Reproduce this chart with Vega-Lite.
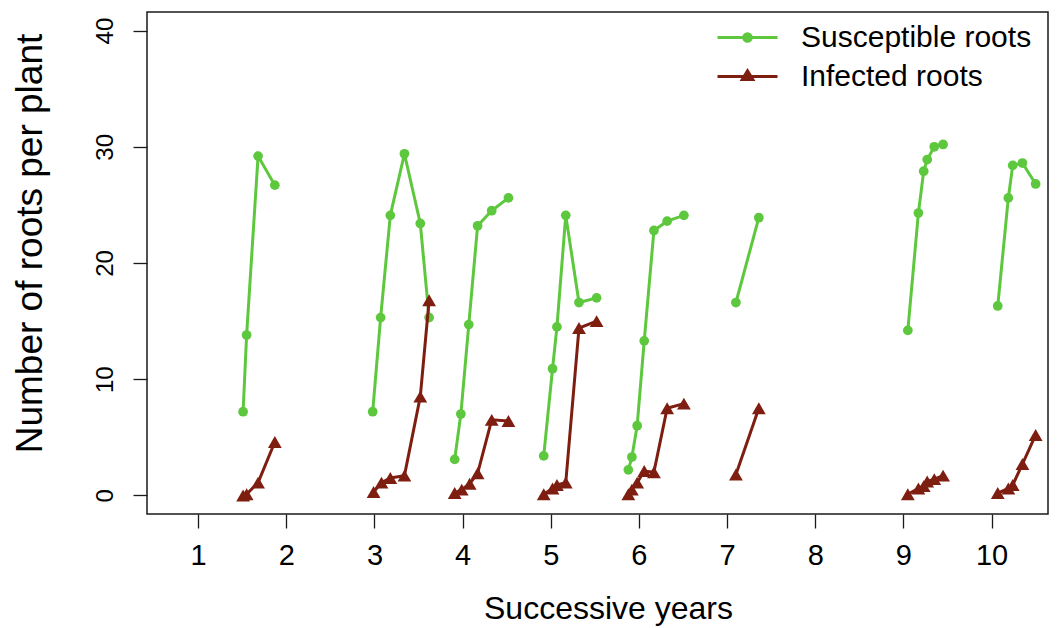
{
  "$schema": "https://vega.github.io/schema/vega-lite/v6.json",
  "width": 901,
  "height": 502,
  "autosize": {"type": "none"},
  "padding": {"left": 147, "top": 12, "right": 13, "bottom": 114},
  "background": "white",
  "config": {
    "font": "Liberation Sans",
    "view": {"stroke": "#1a1a1a", "strokeWidth": 1.5},
    "axis": {
      "grid": false,
      "domain": false,
      "tickColor": "#1a1a1a",
      "tickWidth": 1.3,
      "tickSize": 14,
      "labelColor": "black",
      "titleColor": "black",
      "labelFont": "Liberation Sans",
      "titleFont": "Liberation Sans",
      "labelFontSize": 24,
      "titleFontWeight": "normal",
      "labelFlush": false,
      "labelOverlap": false,
      "labelBound": false
    }
  },
  "data": {
    "values": [
      {"series": "Susceptible roots", "g": 1, "x": 1.51, "y": 7.2},
      {"series": "Susceptible roots", "g": 1, "x": 1.55, "y": 13.8},
      {"series": "Susceptible roots", "g": 1, "x": 1.68, "y": 29.2},
      {"series": "Susceptible roots", "g": 1, "x": 1.87, "y": 26.7},
      {"series": "Susceptible roots", "g": 3, "x": 2.98, "y": 7.2},
      {"series": "Susceptible roots", "g": 3, "x": 3.07, "y": 15.3},
      {"series": "Susceptible roots", "g": 3, "x": 3.18, "y": 24.1},
      {"series": "Susceptible roots", "g": 3, "x": 3.34, "y": 29.4},
      {"series": "Susceptible roots", "g": 3, "x": 3.52, "y": 23.4},
      {"series": "Susceptible roots", "g": 3, "x": 3.62, "y": 15.3},
      {"series": "Susceptible roots", "g": 4, "x": 3.91, "y": 3.1},
      {"series": "Susceptible roots", "g": 4, "x": 3.98, "y": 7.0},
      {"series": "Susceptible roots", "g": 4, "x": 4.07, "y": 14.7},
      {"series": "Susceptible roots", "g": 4, "x": 4.17, "y": 23.2},
      {"series": "Susceptible roots", "g": 4, "x": 4.33, "y": 24.5},
      {"series": "Susceptible roots", "g": 4, "x": 4.52, "y": 25.6},
      {"series": "Susceptible roots", "g": 5, "x": 4.92, "y": 3.4},
      {"series": "Susceptible roots", "g": 5, "x": 5.02, "y": 10.9},
      {"series": "Susceptible roots", "g": 5, "x": 5.07, "y": 14.5},
      {"series": "Susceptible roots", "g": 5, "x": 5.17, "y": 24.1},
      {"series": "Susceptible roots", "g": 5, "x": 5.32, "y": 16.6},
      {"series": "Susceptible roots", "g": 5, "x": 5.52, "y": 17.0},
      {"series": "Susceptible roots", "g": 6, "x": 5.88, "y": 2.2},
      {"series": "Susceptible roots", "g": 6, "x": 5.92, "y": 3.3},
      {"series": "Susceptible roots", "g": 6, "x": 5.98, "y": 6.0},
      {"series": "Susceptible roots", "g": 6, "x": 6.06, "y": 13.3},
      {"series": "Susceptible roots", "g": 6, "x": 6.17, "y": 22.8},
      {"series": "Susceptible roots", "g": 6, "x": 6.32, "y": 23.6},
      {"series": "Susceptible roots", "g": 6, "x": 6.51, "y": 24.1},
      {"series": "Susceptible roots", "g": 7, "x": 7.10, "y": 16.6},
      {"series": "Susceptible roots", "g": 7, "x": 7.36, "y": 23.9},
      {"series": "Susceptible roots", "g": 9, "x": 9.05, "y": 14.2},
      {"series": "Susceptible roots", "g": 9, "x": 9.17, "y": 24.3},
      {"series": "Susceptible roots", "g": 9, "x": 9.23, "y": 27.9},
      {"series": "Susceptible roots", "g": 9, "x": 9.27, "y": 28.9},
      {"series": "Susceptible roots", "g": 9, "x": 9.35, "y": 30.0},
      {"series": "Susceptible roots", "g": 9, "x": 9.45, "y": 30.2},
      {"series": "Susceptible roots", "g": 10, "x": 10.07, "y": 16.3},
      {"series": "Susceptible roots", "g": 10, "x": 10.19, "y": 25.6},
      {"series": "Susceptible roots", "g": 10, "x": 10.24, "y": 28.4},
      {"series": "Susceptible roots", "g": 10, "x": 10.35, "y": 28.6},
      {"series": "Susceptible roots", "g": 10, "x": 10.50, "y": 26.8},
      {"series": "Infected roots", "g": 1, "x": 1.51, "y": 0.0},
      {"series": "Infected roots", "g": 1, "x": 1.55, "y": 0.1},
      {"series": "Infected roots", "g": 1, "x": 1.68, "y": 1.1},
      {"series": "Infected roots", "g": 1, "x": 1.87, "y": 4.6},
      {"series": "Infected roots", "g": 3, "x": 2.99, "y": 0.3},
      {"series": "Infected roots", "g": 3, "x": 3.08, "y": 1.1},
      {"series": "Infected roots", "g": 3, "x": 3.18, "y": 1.5},
      {"series": "Infected roots", "g": 3, "x": 3.34, "y": 1.7},
      {"series": "Infected roots", "g": 3, "x": 3.52, "y": 8.5},
      {"series": "Infected roots", "g": 3, "x": 3.62, "y": 16.8},
      {"series": "Infected roots", "g": 4, "x": 3.91, "y": 0.2},
      {"series": "Infected roots", "g": 4, "x": 3.99, "y": 0.5},
      {"series": "Infected roots", "g": 4, "x": 4.08, "y": 1.0},
      {"series": "Infected roots", "g": 4, "x": 4.17, "y": 1.9},
      {"series": "Infected roots", "g": 4, "x": 4.33, "y": 6.5},
      {"series": "Infected roots", "g": 4, "x": 4.52, "y": 6.4},
      {"series": "Infected roots", "g": 5, "x": 4.92, "y": 0.1},
      {"series": "Infected roots", "g": 5, "x": 5.02, "y": 0.6},
      {"series": "Infected roots", "g": 5, "x": 5.07, "y": 0.9},
      {"series": "Infected roots", "g": 5, "x": 5.17, "y": 1.1},
      {"series": "Infected roots", "g": 5, "x": 5.32, "y": 14.4},
      {"series": "Infected roots", "g": 5, "x": 5.52, "y": 15.0},
      {"series": "Infected roots", "g": 6, "x": 5.88, "y": 0.1},
      {"series": "Infected roots", "g": 6, "x": 5.92, "y": 0.5},
      {"series": "Infected roots", "g": 6, "x": 5.98, "y": 1.1},
      {"series": "Infected roots", "g": 6, "x": 6.06, "y": 2.1},
      {"series": "Infected roots", "g": 6, "x": 6.17, "y": 2.0},
      {"series": "Infected roots", "g": 6, "x": 6.32, "y": 7.5},
      {"series": "Infected roots", "g": 6, "x": 6.51, "y": 7.9},
      {"series": "Infected roots", "g": 7, "x": 7.10, "y": 1.8},
      {"series": "Infected roots", "g": 7, "x": 7.36, "y": 7.5},
      {"series": "Infected roots", "g": 9, "x": 9.05, "y": 0.1},
      {"series": "Infected roots", "g": 9, "x": 9.17, "y": 0.6},
      {"series": "Infected roots", "g": 9, "x": 9.23, "y": 0.8},
      {"series": "Infected roots", "g": 9, "x": 9.27, "y": 1.2},
      {"series": "Infected roots", "g": 9, "x": 9.35, "y": 1.4},
      {"series": "Infected roots", "g": 9, "x": 9.45, "y": 1.7},
      {"series": "Infected roots", "g": 10, "x": 10.07, "y": 0.2},
      {"series": "Infected roots", "g": 10, "x": 10.19, "y": 0.6},
      {"series": "Infected roots", "g": 10, "x": 10.24, "y": 0.9},
      {"series": "Infected roots", "g": 10, "x": 10.35, "y": 2.7},
      {"series": "Infected roots", "g": 10, "x": 10.50, "y": 5.2}
    ]
  },
  "encoding": {
    "x": {
      "field": "x",
      "type": "quantitative",
      "scale": {"domain": [0.42, 10.64], "nice": false, "zero": false},
      "axis": {
        "title": "Successive years",
        "values": [1, 2, 3, 4, 5, 6, 7, 8, 9, 10],
        "format": "d",
        "labelFontSize": 29,
        "labelPadding": 13,
        "labelBaseline": "top",
        "titleFontSize": 32,
        "titleBaseline": "alphabetic",
        "titleX": 461,
        "titleY": 104
      }
    },
    "y": {
      "field": "y",
      "type": "quantitative",
      "scale": {"domain": [-1.6, 41.6], "nice": false, "zero": false},
      "axis": {
        "title": "Number of roots per plant",
        "values": [0, 10, 20, 30, 40],
        "format": "d",
        "labelFontSize": 24,
        "labelAngle": 270,
        "labelAlign": "center",
        "labelBaseline": "alphabetic",
        "labelPadding": 21,
        "titleFontSize": 37,
        "titleAngle": 270,
        "titleAlign": "center",
        "titleBaseline": "alphabetic",
        "titleX": -106,
        "titleY": 231
      }
    },
    "color": {
      "field": "series",
      "type": "nominal",
      "scale": {"domain": ["Susceptible roots", "Infected roots"], "range": ["#5DC83E", "#7E1E10"]},
      "legend": {
        "title": null,
        "orient": "none",
        "legendX": 584,
        "legendY": 9,
        "padding": 0,
        "symbolSize": 900,
        "symbolStrokeWidth": 3,
        "rowPadding": 7,
        "labelOffset": 37,
        "labelFont": "Liberation Sans",
        "labelFontSize": 30,
        "labelColor": "black",
        "labelLimit": 400,
        "encode": {
          "symbols": {
            "update": {
              "shape": [
                {"test": "datum.value === 'Susceptible roots'", "value": "M-2,0L2,0M-0.25,0A0.25,0.25 0 1,0 0.25,0A0.25,0.25 0 1,0 -0.25,0Z"},
                {"value": "M-2,0L2,0M0,-0.38L0.35,0.2L-0.35,0.2Z"}
              ],
              "fill": [
                {"test": "datum.value === 'Susceptible roots'", "value": "#5DC83E"},
                {"value": "#7E1E10"}
              ],
              "stroke": [
                {"test": "datum.value === 'Susceptible roots'", "value": "#5DC83E"},
                {"value": "#7E1E10"}
              ],
              "strokeWidth": {"value": 3},
              "opacity": {"value": 1},
              "fillOpacity": {"value": 1},
              "strokeOpacity": {"value": 1}
            }
          }
        }
      }
    },
    "detail": {"field": "g", "type": "nominal"}
  },
  "layer": [
    {
      "transform": [{"filter": "datum.series === 'Susceptible roots'"}],
      "mark": {"type": "line", "strokeWidth": 3},
      "encoding": {}
    },
    {
      "transform": [{"filter": "datum.series === 'Susceptible roots'"}],
      "mark": {"type": "point", "filled": true, "opacity": 1, "size": 95, "shape": "circle"},
      "encoding": {}
    },
    {
      "transform": [{"filter": "datum.series === 'Infected roots'"}],
      "mark": {"type": "line", "strokeWidth": 3},
      "encoding": {}
    },
    {
      "transform": [{"filter": "datum.series === 'Infected roots'"}],
      "mark": {"type": "point", "filled": true, "opacity": 1, "size": 190, "shape": "triangle-up"},
      "encoding": {}
    }
  ]
}
